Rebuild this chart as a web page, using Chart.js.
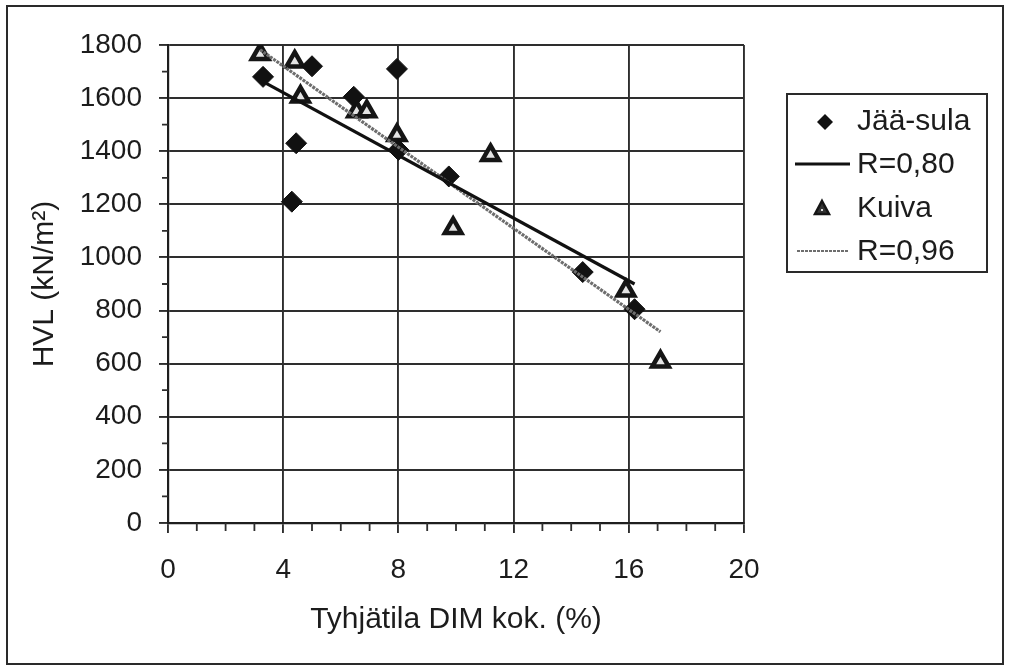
<!DOCTYPE html>
<html>
<head>
<meta charset="utf-8">
<title>HVL vs. tyhjätila</title>
<script src="https://cdn.jsdelivr.net/npm/chart.js@4/dist/chart.umd.min.js"></script>
<style>
  html, body { margin: 0; padding: 0; background: #fff; }
  #wrap { width: 1010px; height: 671px; position: relative; }
</style>
</head>
<body>
<div id="wrap"><canvas id="c"></canvas></div>
<script>
// Measured points: void content (%) vs. HVL strength (kN/m²)
const jaaSulaX = [3.3, 5.0, 7.95, 6.45, 4.45, 4.3, 8.0, 9.75, 14.4, 16.2];
const jaaSulaY = [1680, 1720, 1710, 1605, 1430, 1210, 1405, 1305, 945, 805];

const kuivaX = [3.2, 4.4, 4.6, 6.55, 6.9, 7.95, 11.2, 9.9, 15.9, 17.1];
const kuivaY = [1765, 1737, 1605, 1550, 1550, 1460, 1385, 1110, 875, 607];

// Linear fit lines (start and end of each fitted segment)
const fit080X = [3.3, 16.2];
const fit080Y = [1662, 900];
const fit096X = [3.2, 17.1];
const fit096Y = [1782, 720];

// Axis ticks
const xTickValues = [0, 4, 8, 12, 16, 20];
const yTickValues = [0, 200, 400, 600, 800, 1000, 1200, 1400, 1600, 1800];
const xMinorStep = 1;
const yMinorStep = 100;

const legendLabels = ['Jää-sula', 'R=0,80', 'Kuiva', 'R=0,96'];

const pts = (xs, ys) => xs.map((x, i) => ({ x, y: ys[i] }));

const FONT = '"Liberation Sans", Arial, Helvetica, sans-serif';
const INK = '#1c1c1c';
const GRID = '#2e2e2e';

// Minor tick marks along both axes
const minorTicks = {
  id: 'minorTicks',
  afterDraw(chart) {
    const { ctx, scales: { x, y } } = chart;
    ctx.save();
    ctx.strokeStyle = GRID;
    ctx.lineWidth = 1.8;
    ctx.beginPath();
    for (let v = x.min; v <= x.max; v += xMinorStep) {
      if (xTickValues.includes(v)) continue;
      const px = x.getPixelForValue(v);
      ctx.moveTo(px, y.bottom);
      ctx.lineTo(px, y.bottom + 8);
    }
    for (let v = y.min; v <= y.max; v += yMinorStep) {
      if (yTickValues.includes(v)) continue;
      const py = y.getPixelForValue(v);
      ctx.moveTo(x.left - 6, py);
      ctx.lineTo(x.left, py);
    }
    ctx.stroke();
    ctx.restore();
  }
};

// Outer frame and boxed legend
const frameAndLegend = {
  id: 'frameAndLegend',
  afterDraw(chart) {
    const ctx = chart.ctx;
    ctx.save();
    ctx.strokeStyle = '#2a2a2a';
    ctx.lineWidth = 2;
    ctx.strokeRect(7, 6, 996, 658);

    // legend box
    const bx = 787, by = 94, bw = 200, bh = 178;
    ctx.lineWidth = 2;
    ctx.strokeRect(bx, by, bw, bh);

    const rows = [122, 165, 209, 252];
    const textX = 857;
    ctx.fillStyle = INK;
    ctx.font = '30px ' + FONT;
    ctx.textBaseline = 'middle';
    ctx.textAlign = 'left';
    legendLabels.forEach((t, i) => ctx.fillText(t, textX, rows[i]));

    const ds = chart.data.datasets;
    // diamond
    const d = ds[2];
    ctx.fillStyle = d.backgroundColor;
    ctx.beginPath();
    ctx.moveTo(825, rows[0] - 8);
    ctx.lineTo(833, rows[0]);
    ctx.lineTo(825, rows[0] + 8);
    ctx.lineTo(817, rows[0]);
    ctx.closePath();
    ctx.fill();
    // solid fit line
    ctx.strokeStyle = ds[0].borderColor;
    ctx.lineWidth = ds[0].borderWidth;
    ctx.setLineDash([]);
    ctx.beginPath();
    ctx.moveTo(795, rows[1] - 1);
    ctx.lineTo(850, rows[1] - 1);
    ctx.stroke();
    // triangle
    const k = ds[3];
    ctx.fillStyle = '#333';
    ctx.strokeStyle = k.borderColor;
    ctx.lineWidth = 2.5;
    ctx.beginPath();
    ctx.moveTo(822, rows[2] - 8);
    ctx.lineTo(829, rows[2] + 5);
    ctx.lineTo(815, rows[2] + 5);
    ctx.closePath();
    ctx.fill();
    ctx.stroke();
    ctx.fillStyle = '#ddd';
    ctx.fillRect(821, rows[2], 2, 2);
    // dotted fit line
    ctx.strokeStyle = ds[1].borderColor;
    ctx.lineWidth = 2.2;
    ctx.setLineDash(ds[1].borderDash);
    ctx.beginPath();
    ctx.moveTo(797, rows[3] - 1);
    ctx.lineTo(848, rows[3] - 1);
    ctx.stroke();
    ctx.restore();
  }
};

new Chart(document.getElementById('c'), {
  type: 'scatter',
  data: {
    datasets: [
      {
        label: legendLabels[1],
        type: 'line',
        data: pts(fit080X, fit080Y),
        borderColor: '#111',
        borderWidth: 3.2,
        pointRadius: 0,
        fill: false
      },
      {
        label: legendLabels[3],
        type: 'line',
        data: pts(fit096X, fit096Y),
        borderColor: '#6e6e6e',
        borderWidth: 3.2,
        borderDash: [3, 1],
        pointRadius: 0,
        fill: false
      },
      {
        label: legendLabels[0],
        data: pts(jaaSulaX, jaaSulaY),
        pointStyle: 'rectRot',
        pointRadius: 10.5,
        backgroundColor: '#111',
        borderColor: '#111',
        borderWidth: 1
      },
      {
        label: legendLabels[2],
        data: pts(kuivaX, kuivaY),
        pointStyle: 'triangle',
        pointRadius: 9.5,
        backgroundColor: '#e4e4e4',
        borderColor: '#151515',
        borderWidth: 4.5
      }
    ]
  },
  options: {
    responsive: true,
    maintainAspectRatio: false,
    animation: false,
    layout: { padding: { left: 0, right: 266, top: 45, bottom: 0 } },
    plugins: {
      legend: { display: false },
      tooltip: { enabled: false }
    },
    scales: {
      x: {
        type: 'linear',
        min: 0,
        max: 20,
        afterBuildTicks: s => { s.ticks = xTickValues.map(v => ({ value: v })); },
        afterFit: s => { s.height = 148; },
        grid: { color: GRID, lineWidth: 1.9, tickLength: 10 },
        border: { display: true, color: '#1e1e1e', width: 2.2 },
        ticks: {
          color: INK, font: { family: FONT, size: 28 }, padding: 20,
          maxRotation: 0, autoSkip: false,
          callback: v => String(v)
        },
        title: {
          display: true,
          text: 'Tyhjätila DIM kok. (%)',
          color: INK,
          font: { family: FONT, size: 30 },
          padding: { top: 0, bottom: 33 }
        }
      },
      y: {
        type: 'linear',
        min: 0,
        max: 1800,
        afterBuildTicks: s => { s.ticks = yTickValues.map(v => ({ value: v })); },
        afterFit: s => { s.width = 168; },
        grid: { color: GRID, lineWidth: 1.9, tickLength: 9 },
        border: { display: true, color: '#1e1e1e', width: 2.2 },
        ticks: {
          color: INK, font: { family: FONT, size: 28 }, padding: 17, autoSkip: false,
          callback: v => String(v)
        },
        title: {
          display: true,
          text: 'HVL (kN/m²)',
          color: INK,
          font: { family: FONT, size: 30 },
          padding: { top: 27, bottom: 0 }
        }
      }
    }
  },
  plugins: [minorTicks, frameAndLegend]
});
</script>
</body>
</html>
